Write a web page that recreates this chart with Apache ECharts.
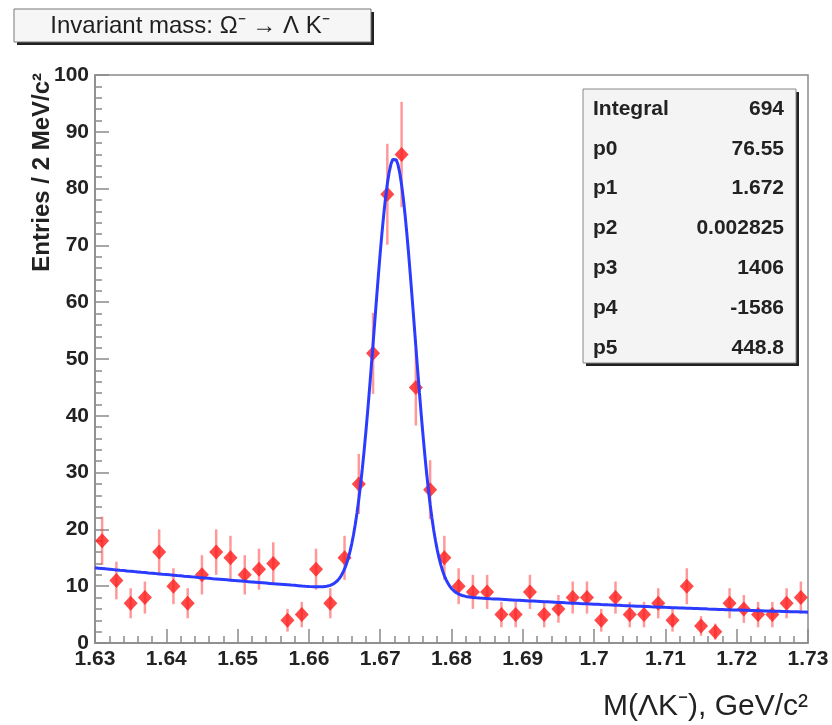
<!DOCTYPE html>
<html><head><meta charset="utf-8">
<script src="https://cdn.jsdelivr.net/npm/echarts@6/dist/echarts.min.js"></script>
<style>html,body{margin:0;padding:0;background:#fff}#c{width:832px;height:725px}</style>
</head><body><div id="c"></div>
<script>
// Bin centres (GeV/c^2), 2 MeV bins
const binCenters = [1.631,1.633,1.635,1.637,1.639,1.641,1.643,1.645,1.647,1.649,
  1.651,1.653,1.655,1.657,1.659,1.661,1.663,1.665,1.667,1.669,
  1.671,1.673,1.675,1.677,1.679,1.681,1.683,1.685,1.687,1.689,
  1.691,1.693,1.695,1.697,1.699,1.701,1.703,1.705,1.707,1.709,
  1.711,1.713,1.715,1.717,1.719,1.721,1.723,1.725,1.727,1.729];
// Entries per bin
const entries = [18,11,7,8,16,10,7,12,16,15,
  12,13,14,4,5,13,7,15,28,51,
  79,86,45,27,15,10,9,9,5,5,
  9,5,6,8,8,4,8,5,5,7,
  4,10,3,2,7,6,5,5,7,8];
// Stats box
const statNames = ['Integral','p0','p1','p2','p3','p4','p5'];
const statValues = ['694','76.55','1.672','0.002825','1406','-1586','448.8'];
// Fit parameters (gaus + pol2), as shown in the stats box
const fitParams = [76.55, 1.672, 0.002825, 1406, -1586, 448.8];
const xRange = [1.63, 1.73];
const yRange = [0, 100];

const titleText = 'Invariant mass: \u03A9\u207B \u2192 \u039B K\u207B';
const xName = 'M(\u039BK\u207B), GeV/c\u00B2';
const yName = 'Entries / 2 MeV/c\u00B2';

function fitFn(x){
  const [a,m,s,c0,c1,c2] = fitParams;
  const g = a*Math.exp(-0.5*Math.pow((x-m)/s,2));
  return g + c0 + c1*x + c2*x*x;
}
const fitCurve = [];
const nPts = 400;
for (let i=0;i<=nPts;i++){
  const x = xRange[0] + (xRange[1]-xRange[0])*i/nPts;
  fitCurve.push([x, fitFn(x)]);
}
const points = binCenters.map((x,i)=>[x, entries[i]]);
const errs = binCenters.map((x,i)=>[x, entries[i], Math.sqrt(entries[i])]);

const chart = echarts.init(document.getElementById('c'), null, {renderer:'canvas'});
const axisCol = '#8a8a8a';
const labelFont = {fontFamily:'Liberation Sans, Arial, sans-serif', fontWeight:'bold', fontSize:21, color:'#222'};

// stats box graphics
const sb = {x:583, y:89, w:213, h:274};
const statGraphics = [];
statNames.forEach((n,i)=>{
  const yy = 109 + i*39.8;
  statGraphics.push({type:'text', x:593, y:yy, style:{text:n, fill:'#222', font:'bold 21px "Liberation Sans", Arial', textAlign:'left', textVerticalAlign:'middle'}, z:20});
  statGraphics.push({type:'text', x:784, y:yy, style:{text:statValues[i], fill:'#222', font:'bold 21px "Liberation Sans", Arial', textAlign:'right', textVerticalAlign:'middle'}, z:20});
});

chart.setOption({
  animation:false,
  backgroundColor:'#fff',
  grid:{left:95, top:75, right:24, bottom:82, show:true, borderColor:axisCol, borderWidth:1.5, backgroundColor:'#fff'},
  xAxis:{
    type:'value', min:xRange[0], max:xRange[1], interval:0.01,
    axisLine:{show:true, onZero:false, lineStyle:{color:axisCol, width:1.5}},
    axisTick:{show:true, inside:true, length:14, lineStyle:{color:axisCol, width:1.5}},
    minorTick:{show:true, splitNumber:5, length:7, lineStyle:{color:axisCol, width:1.5}},
    splitLine:{show:false},
    axisLabel:Object.assign({margin:6, formatter:v=>String(parseFloat(v.toFixed(3)))}, labelFont)
  },
  yAxis:{
    type:'value', min:yRange[0], max:yRange[1], interval:10,
    axisLine:{show:true, lineStyle:{color:axisCol, width:1.5}},
    axisTick:{show:true, inside:true, length:14, lineStyle:{color:axisCol, width:1.5}},
    minorTick:{show:true, splitNumber:5, length:7, lineStyle:{color:axisCol, width:1.5}},
    splitLine:{show:false},
    axisLabel:Object.assign({margin:6}, labelFont)
  },
  series:[
    {
      type:'custom', name:'errors', data:errs, z:2,
      renderItem:function(params, api){
        const x = api.value(0), y = api.value(1), e = api.value(2);
        const p1 = api.coord([x, y-e]);
        const p2 = api.coord([x, y+e]);
        return {type:'line', shape:{x1:p1[0], y1:p1[1], x2:p2[0], y2:p2[1]},
          style:{stroke:'rgba(255,70,70,0.55)', lineWidth:2.5}};
      }
    },
    {
      type:'scatter', name:'data', data:points, symbol:'diamond', symbolSize:[14,15], z:3,
      itemStyle:{color:'#ff1a1a'}
    },
    {
      type:'line', name:'fit', data:fitCurve, showSymbol:false, smooth:false, z:4,
      lineStyle:{color:'#2b3cff', width:3}
    }
  ],
  graphic:[
    // title box
    {type:'rect', shape:{x:17, y:12, width:357, height:33}, style:{fill:'#222'}, z:10},
    {type:'rect', shape:{x:14, y:9, width:357, height:33}, style:{fill:'#f6f6f6', stroke:'#777', lineWidth:1}, z:11},
    {type:'text', x:190, y:26, style:{text:titleText, fill:'#1e1e1e', font:'24px "Liberation Sans", Arial', textAlign:'center', textVerticalAlign:'middle'}, z:12},
    // stats box
    {type:'rect', shape:{x:sb.x+3, y:sb.y+3, width:sb.w, height:sb.h}, style:{fill:'#222'}, z:15},
    {type:'rect', shape:{x:sb.x, y:sb.y, width:sb.w, height:sb.h}, style:{fill:'#f4f4f4', stroke:'#888', lineWidth:1}, z:16},
    ...statGraphics,
    // axis names
    {type:'text', x:42, y:73, rotation:Math.PI/2, style:{text:yName, fill:'#222', font:'bold 24px "Liberation Sans", Arial', textAlign:'right', textVerticalAlign:'middle'}, z:12},
    {type:'text', x:808, y:707, style:{text:xName, fill:'#222', font:'30px "Liberation Sans", Arial', textAlign:'right', textVerticalAlign:'middle'}, z:12}
  ]
});
</script>
</body></html>
